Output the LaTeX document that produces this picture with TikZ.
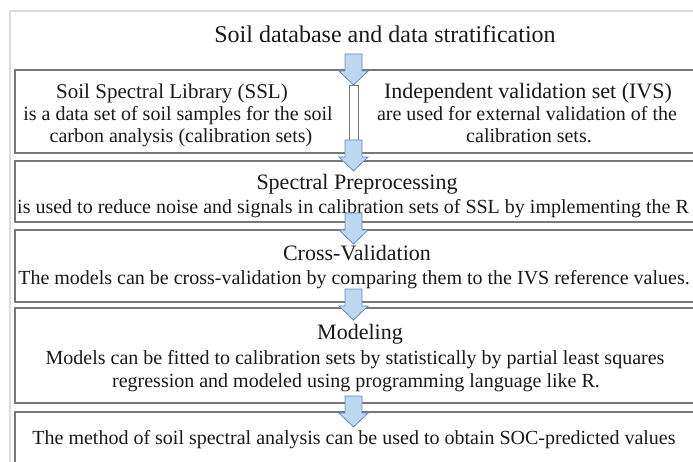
\documentclass[tikz,border=0pt]{standalone}
\usepackage{fontspec}
\setmainfont{Liberation Serif}
\definecolor{boxline}{RGB}{120,120,120}
\definecolor{frameline}{RGB}{218,220,224}
\definecolor{arrowfill}{RGB}{189,215,238}
\definecolor{arrowline}{RGB}{96,140,196}
\definecolor{txt}{RGB}{25,25,25}
\tikzset{
  box/.style={draw=boxline, line width=1.1pt, fill=white, rectangle, inner sep=0pt},
  titletxt/.style={anchor=base, text=txt, font=\fontsize{24}{28}\selectfont, inner sep=0pt},
  headtxt/.style={anchor=base, text=txt, font=\fontsize{22}{26}\selectfont, inner sep=0pt},
  bodytxt/.style={anchor=base, text=txt, font=\fontsize{20}{24}\selectfont, inner sep=0pt},
  blockarrow/.pic={\draw[draw=arrowline, line width=0.8pt, fill=arrowfill, line join=miter]
      (-8.5,-31) -- (8.5,-31) -- (8.5,-14) -- (14.5,-14) -- (0,0) -- (-14.5,-14) -- (-8.5,-14) -- cycle;}
}
\begin{document}
\begin{tikzpicture}[x=1pt,y=-1pt]
\useasboundingbox (0,0) rectangle (693,462);
\fill[white] (0,0) rectangle (693,462);
% outer frame
\draw[frameline, line width=1.3pt] (10,475) -- (10,11) -- (700,11);
% title
\node[titletxt] (title) at (385,43) {Soil database and data stratification};
% boxes
\node[box, minimum width=680pt, minimum height=83pt] (b1) at (355,111.5) {};
\node[box, minimum width=680pt, minimum height=61pt] (b2) at (355,191.5) {};
\node[box, minimum width=680pt, minimum height=72pt] (b3) at (355,266) {};
\node[box, minimum width=680pt, minimum height=95pt] (b4) at (355,355.5) {};
\node[box, minimum width=680pt, minimum height=70pt] (b5) at (355,447) {};
% divider inside box 1
\draw[draw=boxline, line width=0.9pt, fill=white] (349,85) rectangle (358,141);
% texts box 1
\node[headtxt, font=\fontsize{21}{25}\selectfont] (sslh) at (172,99) {Soil Spectral Library (SSL)};
\node[bodytxt] (ssl1) at (178,121) {is a data set of soil samples for the soil};
\node[bodytxt] (ssl2) at (181,143) {carbon analysis (calibration sets)};
\node[headtxt] (ivsh) at (528,99) {Independent validation set (IVS)};
\node[bodytxt] (ivs1) at (527,121) {are used for external validation of the};
\node[bodytxt] (ivs2) at (529,143) {calibration sets.};
% box 2
\node[headtxt] (sph) at (357,190) {Spectral Preprocessing};
\node[bodytxt] (sp1) at (353,214) {is used to reduce noise and signals in calibration sets of SSL by implementing the R};
% box 3
\node[headtxt] (cvh) at (357,261) {Cross-Validation};
\node[bodytxt] (cv1) at (354,284) {The models can be cross-validation by comparing them to the IVS reference values.};
% box 4
\node[headtxt] (mh) at (360,339) {Modeling};
\node[bodytxt] (m1) at (355,364) {Models can be fitted to calibration sets by statistically by partial least squares};
\node[bodytxt] (m2) at (356,387) {regression and modeled using programming language like R.};
% box 5
\node[bodytxt] (r1) at (354,444) {The method of soil spectral analysis can be used to obtain SOC-predicted values};
% arrows (tip positions)
\coordinate (a1) at (353.5,85);
\coordinate (a2) at (353.5,171);
\coordinate (a3) at (353.5,244);
\coordinate (a4) at (353.5,320);
\coordinate (a5) at (353.5,427);
\pic at (a1) {blockarrow};
\pic at (a2) {blockarrow};
\pic at (a3) {blockarrow};
\pic at (a4) {blockarrow};
\pic at (a5) {blockarrow};
\end{tikzpicture}
\end{document}
